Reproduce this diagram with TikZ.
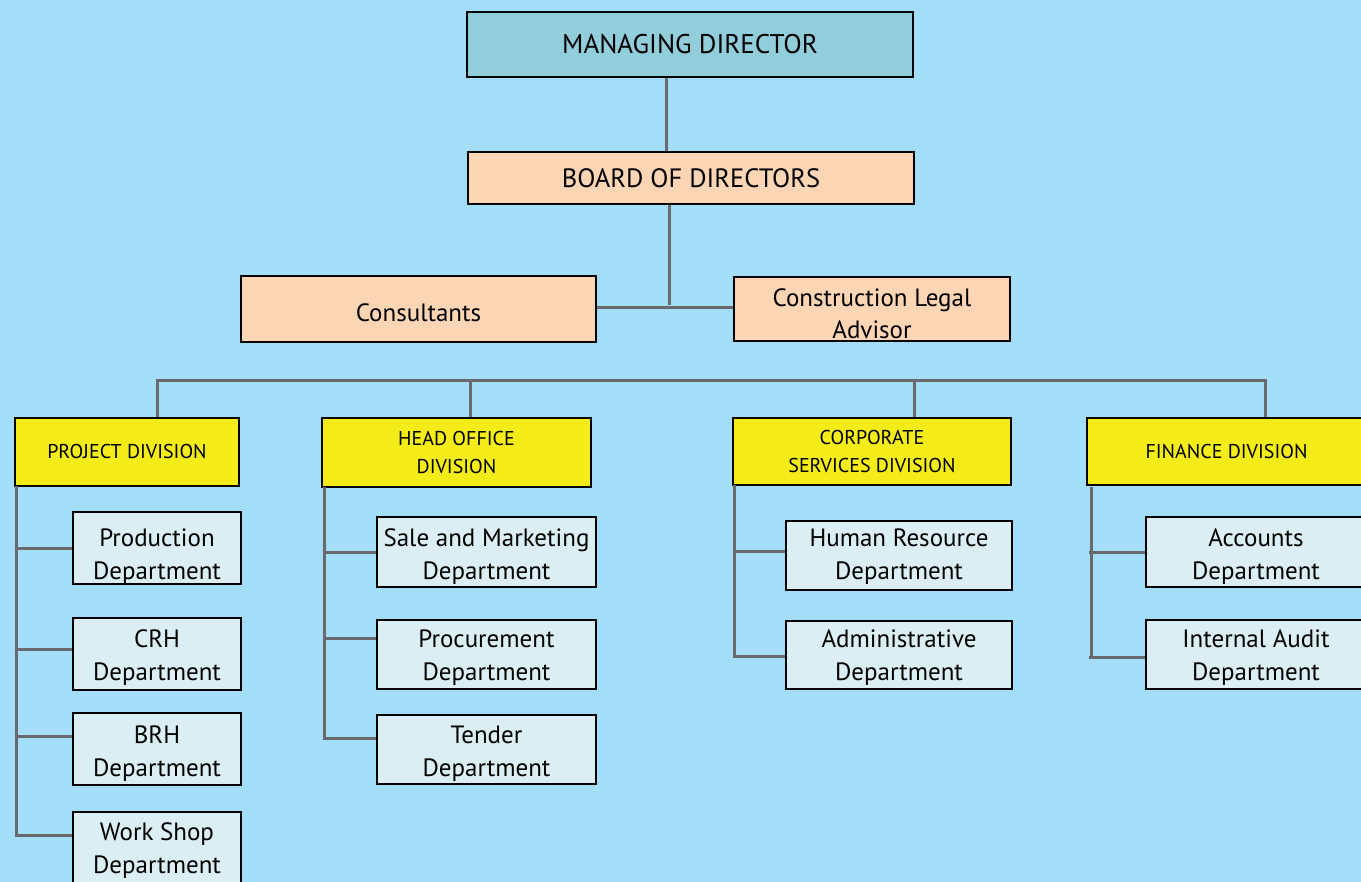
\documentclass[tikz,border=0pt]{standalone}
\usepackage{fontspec}
\setmainfont{PT Sans}
\definecolor{bg}{RGB}{164,221,247}
\definecolor{mdfill}{RGB}{146,205,220}
\definecolor{peach}{RGB}{252,213,181}
\definecolor{divyel}{RGB}{243,236,25}
\definecolor{subfill}{RGB}{218,238,243}
\definecolor{linkgray}{RGB}{105,105,110}
\tikzset{
  box/.style={draw=black, line width=2.7pt, inner sep=0pt},
  mdbox/.style={box, fill=mdfill},
  peachbox/.style={box, fill=peach},
  divbox/.style={box, fill=divyel},
  subbox/.style={box, fill=subfill},
  lbl/.style={inner sep=0pt, align=center, text=black},
  mdtxt/.style={lbl, font=\fontsize{27}{30}\selectfont},
  peachtxt/.style={lbl, font=\fontsize{25}{32}\selectfont},
  bodtxt/.style={lbl, font=\fontsize{26.5}{30}\selectfont},
  divtxt/.style={lbl, font=\fontsize{20}{28}\selectfont},
  subtxt/.style={lbl, font=\fontsize{25}{33}\selectfont},
  link/.style={draw=linkgray, line width=3pt},
}
% box style, name, x1, y1, x2, y2, text style, text centre y, text
\newcommand{\bx}[9]{%
  \node[#1, minimum width={(#5-#3)*1pt}, minimum height={(#6-#4)*1pt}] (#2) at ({(#3+#5)/2},{(#4+#6)/2}) {};
  \node[#7] (#2-t) at ({(#3+#5)/2},#8) {#9};}
\begin{document}
\begin{tikzpicture}[x=1pt,y=-1pt]
\fill[bg] (0,0) rectangle (1361,882);
\useasboundingbox (0,0) rectangle (1361,882);
\clip (0,0) rectangle (1361,882);
% top
\bx{mdbox}{md}{467}{12}{913}{77}{mdtxt}{44.5}{MANAGING DIRECTOR}
\bx{peachbox}{bod}{468}{152}{914}{204}{bodtxt}{178}{BOARD OF DIRECTORS}
\bx{peachbox}{cons}{241}{276}{596}{342}{peachtxt}{313}{Consultants}
\bx{peachbox}{cla}{734}{277}{1010}{341}{peachtxt}{313.5}{Construction Legal\\Advisor}
% divisions
\bx{divbox}{pd}{15}{418}{239}{486}{divtxt}{452}{PROJECT DIVISION}
\bx{divbox}{ho}{322}{418}{591}{487}{divtxt}{452.5}{HEAD OFFICE\\DIVISION}
\bx{divbox}{cs}{733}{418}{1011}{485}{divtxt}{451.5}{CORPORATE\\SERVICES DIVISION}
\bx{divbox}{fd}{1087}{418}{1366}{485}{divtxt}{451.5}{FINANCE DIVISION}
% project departments
\bx{subbox}{prod}{73}{512}{241}{584}{subtxt}{557}{Production\\Department}
\bx{subbox}{crh}{73}{618}{241}{690}{subtxt}{658}{CRH\\Department}
\bx{subbox}{brh}{73}{713}{241}{785}{subtxt}{754}{BRH\\Department}
\bx{subbox}{ws}{73}{812}{241}{890}{subtxt}{851}{Work Shop\\Department}
% head office departments
\bx{subbox}{sale}{377}{517}{596}{587}{subtxt}{557}{Sale and Marketing\\Department}
\bx{subbox}{proc}{377}{620}{596}{689}{subtxt}{658}{Procurement\\Department}
\bx{subbox}{tend}{377}{715}{596}{784}{subtxt}{754}{Tender\\Department}
% corporate departments
\bx{subbox}{hr}{786}{521}{1012}{590}{subtxt}{557}{Human Resource\\Department}
\bx{subbox}{adm}{786}{621}{1012}{689}{subtxt}{658}{Administrative\\Department}
% finance departments
\bx{subbox}{acc}{1146}{517}{1366}{587}{subtxt}{557}{Accounts\\Department}
\bx{subbox}{ia}{1146}{620}{1366}{689}{subtxt}{658}{Internal Audit\\Department}
% connectors top
\draw[link] ([xshift=-24pt]md.south) -- ([xshift=-25pt]bod.north);
\coordinate (jn) at (669,305);
\draw[link] ([xshift=-22pt]bod.south) -- (jn);
\draw[link] (cons.east |- 0,308) -- (cla.west |- 0,308);
% bus
\coordinate (busL) at (157,381);
\coordinate (busR) at (1265,381);
\draw[link] ([xshift=-1.5pt]busL) -- ([xshift=1.5pt]busR);
\draw[link] (busL) -- (busL |- pd.north);
\draw[link] (ho.north -| 470,0) -- (470,381);
\draw[link] (cs.north -| 914,0) -- (914,381);
\draw[link] (busR) -- (busR |- fd.north);
% project branch
\coordinate (pdT) at (16,486);
\draw[link] (pdT) -- (16,836.5);
\foreach \n/\yy in {prod/548,crh/649,brh/736,ws/835}{\draw[link] (14.5,\yy) -- (\n.west |- 0,\yy);}
% head office branch
\draw[link] (324,487) -- (324,739.5);
\foreach \n/\yy in {sale/552,proc/638,tend/738}{\draw[link] (322.5,\yy) -- (\n.west |- 0,\yy);}
% corporate branch
\draw[link] (734,485) -- (734,657.5);
\foreach \n/\yy in {hr/551,adm/656}{\draw[link] (732.5,\yy) -- (\n.west |- 0,\yy);}
% finance branch
\draw[link] (1091,487) -- (1091,658.5);
\foreach \n/\yy in {acc/552,ia/657}{\draw[link] (1089,\yy) -- (\n.west |- 0,\yy);}
\end{tikzpicture}
\end{document}
